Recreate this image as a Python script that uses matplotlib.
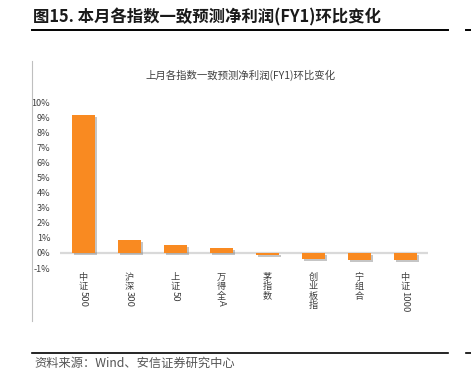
import matplotlib
matplotlib.use("Agg")
import matplotlib.pyplot as plt
import matplotlib.patheffects as pe
import matplotlib.transforms as mtrans
from matplotlib.lines import Line2D

plt.rcParams['font.family'] = ['Noto Sans CJK SC', 'DejaVu Sans']

categories = ['中证500', '沪深300', '上证50', '万得全A', '茅指数', '创业板指', '宁组合', '中证1000']
values = [9.14, 0.86, 0.51, 0.33, -0.13, -0.38, -0.44, -0.46]
yticks = list(range(-1, 11))
ytick_labels = [f'{t}%' for t in yticks]
header = '图15. 本月各指数一致预测净利润(FY1)环比变化'
chart_title = '上月各指数一致预测净利润(FY1)环比变化'
source = '资料来源：Wind、安信证券研究中心'

W, H = 471, 388
fig = plt.figure(figsize=(W / 100, H / 100), dpi=100)

def fx(px):
    return px / W

def fy(py):
    return 1 - py / H

ax = fig.add_axes([fx(60), fy(268), fx(428) - fx(60), fy(102) - fy(268)])
x = list(range(len(categories)))
ax.axhline(0, color='#D9D9D9', lw=1.6, zorder=1)
bars = ax.bar(x, values, width=0.5, color='#F98A21', zorder=2)
for b in bars:
    b.set_path_effects([pe.SimplePatchShadow(offset=(1.5, -1.5), shadow_rgbFace='#808080', alpha=0.45), pe.Normal()])
ax.set_xlim(-0.5, len(categories) - 0.5)
ax.set_ylim(-1, 10)
ax.set_yticks(yticks)
ax.set_yticklabels(ytick_labels, fontsize=6.6, color='#404040')
ax.set_xticks([])
ax.tick_params(axis='y', length=0, pad=7)
for s in ax.spines.values():
    s.set_visible(False)
ax.patch.set_alpha(0)

# vertical category labels
blend = mtrans.blended_transform_factory(ax.transData, fig.transFigure)
for i, lab in enumerate(categories):
    cjk = ''.join(c for c in lab if ord(c) > 127)
    asc = ''.join(c for c in lab if ord(c) <= 127)
    ypx = 273
    for c in cjk:
        ax.text(i, fy(ypx), c, transform=blend, ha='center', va='top', fontsize=6.6, color='#404040')
        ypx += 9.3
    if asc:
        ax.text(i, fy(ypx - 1), asc, transform=blend, ha='center', va='top', rotation=-90,
                fontsize=6.8, color='#404040')

# chart title
fig.text(fx(240), fy(75), chart_title, ha='center', va='center', fontsize=7.5, color='#404040')

# left border of chart image
fig.add_artist(Line2D([fx(32), fx(32)], [fy(61), fy(321)], color='#BFBFBF', lw=0.8))

# header
fig.text(fx(33), fy(17), header, ha='left', va='center', fontsize=11.8, fontweight='bold', color='#1a1a1a')
fig.add_artist(Line2D([fx(32), fx(448)], [fy(29.5), fy(29.5)], color='black', lw=1.4))
fig.add_artist(Line2D([fx(466), fx(471)], [fy(29.5), fy(29.5)], color='black', lw=1.4))

# footer
fig.add_artist(Line2D([fx(32), fx(448)], [fy(353), fy(353)], color='black', lw=1.2))
fig.add_artist(Line2D([fx(466), fx(471)], [fy(353), fy(353)], color='black', lw=1.2))
fig.text(fx(34), fy(363), source, ha='left', va='center', fontsize=8.8, color='#555555')

fig.savefig('out.png', dpi=100)
